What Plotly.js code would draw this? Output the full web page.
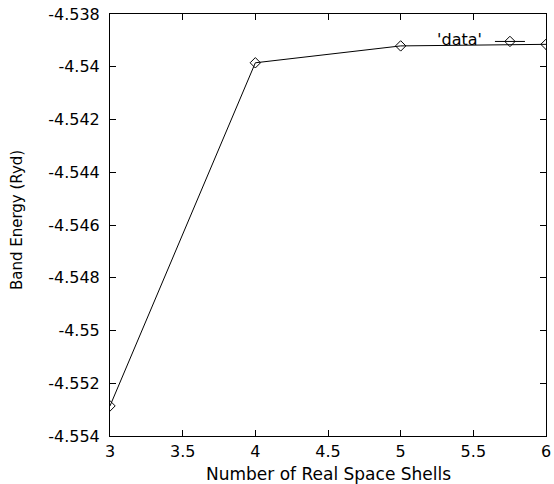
<!DOCTYPE html>
<html>
<head>
<meta charset="utf-8">
<script src="https://cdn.plot.ly/plotly-3.0.1.min.js"></script>
<style>html,body{margin:0;padding:0;background:#fff}#chart{width:554px;height:484px}</style>
</head>
<body>
<div id="chart"></div>
<script>
const shells = [3, 4, 5, 6];
const bandEnergy = [-4.55286, -4.53985, -4.53921, -4.53915];
const xTicks = [3, 3.5, 4, 4.5, 5, 5.5, 6];
const yTicks = [-4.554, -4.552, -4.55, -4.548, -4.546, -4.544, -4.542, -4.54, -4.538];
const yTickLabels = ['-4.554', '-4.552', '-4.55', '-4.548', '-4.546', '-4.544', '-4.542', '-4.54', '-4.538'];
const seriesName = "'data'";
const xTitle = 'Number of Real Space Shells';
const yTitle = 'Band Energy (Ryd)';

const fam = 'DejaVu Sans, Liberation Sans, sans-serif';
const font = {family: fam, size: 16, color: '#000'};

const trace = {
  x: shells, y: bandEnergy, type: 'scatter', mode: 'lines+markers',
  name: '', showlegend: true,
  line: {color: '#000', width: 1},
  marker: {symbol: 'diamond-open', size: 8, color: '#000', line: {width: 1}}
};

const axisCommon = {
  showgrid: false, zeroline: false, showline: true, linecolor: '#000', linewidth: 1,
  mirror: 'ticks', ticks: 'inside', ticklen: 6, tickcolor: '#000', tickwidth: 1,
  tickfont: font, ticklabelstandoff: 6
};

const layout = {
  width: 554, height: 484,
  margin: {l: 110, r: 8, t: 14, b: 48},
  paper_bgcolor: '#fff', plot_bgcolor: '#fff',
  font: font,
  xaxis: Object.assign({}, axisCommon, {
    range: [3, 6], tickvals: xTicks, ticktext: xTicks.map(String),
    ticklabelstandoff: 1
  }),
  yaxis: Object.assign({}, axisCommon, {
    range: [-4.554, -4.538], tickvals: yTicks, ticktext: yTickLabels
  }),
  annotations: [{
    text: xTitle, xref: 'paper', yref: 'paper', x: 0.5, y: -0.09,
    xanchor: 'center', yanchor: 'middle', showarrow: false,
    font: {family: fam, size: 17, color: '#000'}
  }, {
    text: yTitle, xref: 'paper', yref: 'paper', x: -0.213, y: 0.512,
    xanchor: 'center', yanchor: 'middle', showarrow: false, textangle: -90,
    font: {family: fam, size: 15, color: '#000'}
  }],
  legend: {
    x: 0.975, y: 0.975, xanchor: 'right', yanchor: 'top',
    bgcolor: 'rgba(0,0,0,0)', borderwidth: 0,
    title: {text: seriesName, side: 'left', font: font},
    font: font, itemwidth: 30
  }
};

Plotly.newPlot('chart', [trace], layout, {displayModeBar: false, staticPlot: true});
</script>
</body>
</html>
